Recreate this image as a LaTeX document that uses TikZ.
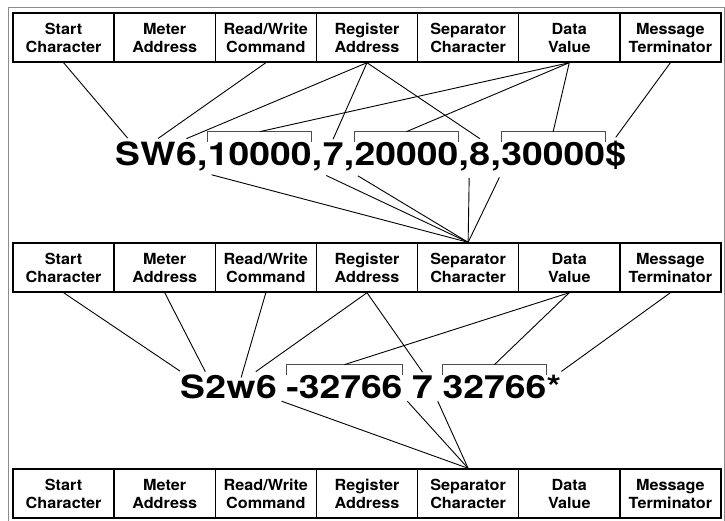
\documentclass[tikz,border=0pt]{standalone}
\usepackage{fontspec}
\usetikzlibrary{calc}
\newfontfamily\boxfont[FakeStretch=1.06]{TeX Gyre Heros}
\newfontfamily\msgfont[FakeStretch=1.165]{TeX Gyre Heros}

\begin{document}
\begin{tikzpicture}[
    x=1pt, y=-1pt, % pixel-like units, y runs downwards
    field/.style={draw, line width=1.4pt, minimum width=101.14pt, minimum height=49pt,
        inner sep=0pt, align=center, font={\boxfont\fontsize{15.3}{18}\selectfont\bfseries}},
    tok/.style={font={\msgfont\fontsize{32}{32}\selectfont\bfseries},
        inner xsep=0pt, inner ysep=3pt, anchor=base west},
    link/.style={line width=0.9pt},
    bracket/.style={line width=0.7pt, black!70},
    frame/.style={draw=black!45, line width=1pt}
]

    % --- 1. PAGE AND FRAME ---
    \useasboundingbox (0,0) rectangle (725,520);
    \draw[frame] (8,7) rectangle (724.5,530);

    % --- 2. MACROS ---
    % one row of the seven message fields
    \def\fieldrow#1#2{
        \foreach \lbl [count=\i] in {{Start\\Character},{Meter\\Address},{Read/Write\\Command},
                {Register\\Address},{Separator\\Character},{Data\\Value},{Message\\Terminator}}
            \node[field] (#1\i) at ({13+101.14*(\i-0.5)}, #2) {\lbl};
    }
    % thin bracket over a data value, #2 = its mid point
    \def\bracket#1#2{
        \draw[bracket] ([yshift=-3pt]#1.north west) -- ([yshift=7pt]#1.north west)
            -- coordinate (#2) ([yshift=7pt]#1.north east) -- ([yshift=-3pt]#1.north east);
    }
    \def\gap{\hspace*{0.278em}}

    % ==========================================
    % FIELD ROWS
    % ==========================================
    \fieldrow{top}{37.5}
    \fieldrow{mid}{267.5}
    \fieldrow{bot}{493.5}

    % ==========================================
    % MESSAGE 1: SW6,10000,7,20000,8,30000$
    % ==========================================
    \node[tok] (aS) at (115,165) {S};
    \foreach \nm/\txt [remember=\nm as \prev (initially aS)] in
            {aW/W, a6/6, ac1/{,}, ad1/10000, ac2/{,}, a7/7, ac3/{,}, ad2/20000,
             ac4/{,}, a8/8, ac5/{,}, ad3/30000, aend/\$}
        \node[tok] (\nm) at (\prev.base east) {\txt};

    \bracket{ad1}{ad1top}
    \bracket{ad2}{ad2top}
    \bracket{ad3}{ad3top}

    % Links from the top row
    \draw[link] (top1.south) -- (aS.north);
    \draw[link] (top3.south) -- (aW.north);
    \foreach \t in {a6,a7,a8} \draw[link] (top4.south) -- (\t.north);
    \foreach \t in {ad1top,ad2top,ad3top} \draw[link] (top6.south) -- (\t);
    \draw[link] (top7.south) -- (aend.north);

    % Separators down to the middle row
    \foreach \t in {ac1,ac2,ac3,ac4,ac5}
        \draw[link, shorten <=4pt] (\t.south east) -- (mid5.north);

    % ==========================================
    % MESSAGE 2: S2w6 -32766 7 32766*
    % ==========================================
    \node[tok] (bS) at (180,398) {S};
    \foreach \nm/\txt [remember=\nm as \prev (initially bS)] in
            {b2/2, bw/w, b6/6, bsp1/\gap, bd1/-32766, bsp2/\gap, b7/7, bsp3/\gap,
             bd2/32766, bend/*}
        \node[tok] (\nm) at (\prev.base east) {\txt};

    \bracket{bd1}{bd1top}
    \bracket{bd2}{bd2top}

    % Links from the middle row
    \draw[link] (mid1.south) -- (bS.north west);
    \draw[link] (mid2.south) -- (b2.north west);
    \draw[link] (mid3.south) -- (bw.north);
    \draw[link] (mid4.south) -- (b6.north west);
    \draw[link] (mid4.south) -- (b7.north);
    \foreach \t in {bd1top,bd2top} \draw[link] (mid6.south) -- (\t);
    \draw[link] (mid7.south) -- (bend.north east);

    % Spaces down to the bottom row
    \foreach \t in {bsp1,bsp2,bsp3} \draw[link] (\t.south) -- (bot5.north);

\end{tikzpicture}
\end{document}
